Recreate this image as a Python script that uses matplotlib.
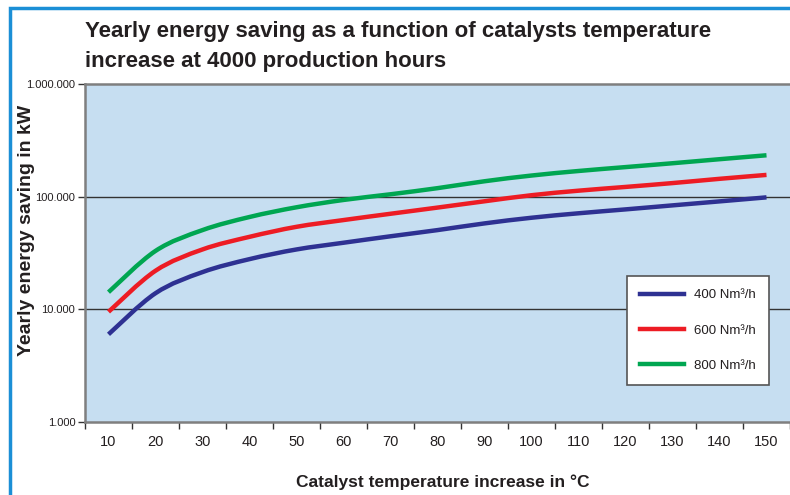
import matplotlib
matplotlib.use("Agg")
import matplotlib.pyplot as plt
import numpy as np
from matplotlib.lines import Line2D
from matplotlib.patches import PathPatch, Rectangle
from matplotlib.path import Path
from matplotlib.ticker import FixedLocator, NullFormatter

plt.rcParams['font.family'] = ['Liberation Sans Narrow', 'Liberation Sans', 'DejaVu Sans']

# data
temps = [10, 20, 30, 40, 50, 60, 70, 80, 90, 100, 110, 120, 130, 140, 150]
saving_400 = [6000, 13900, 21400, 27900, 34000, 39000, 44500, 50500, 57900,
              65000, 71200, 77100, 83700, 90800, 98600]
saving_600 = [9500, 22000, 34000, 44000, 54000, 62000, 70500, 80000, 91000,
              103000, 113000, 122000, 132000, 144000, 156000]
saving_800 = [14200, 33000, 50500, 66000, 80500, 93500, 105000, 119000, 137000,
              154000, 169000, 183000, 198000, 215000, 233000]
series_labels = ["400 Nm\u00b3/h", "600 Nm\u00b3/h", "800 Nm\u00b3/h"]
series_colors = ["#2E3192", "#ED1C24", "#00A651"]
ytick_vals = [1000, 10000, 100000, 1000000]
ytick_labels = ["1.000", "10.000", "100.000", "1.000.000"]


def smooth_path(xs, ys):
    # Excel-like smoothed line: cubic Bezier through every point (Catmull-Rom tangents),
    # built in (x, log y) space so it looks right on the log axis
    px = np.asarray(xs, float)
    py = np.log10(np.asarray(ys, float))
    n = len(px)
    verts = [(px[0], py[0])]
    codes = [Path.MOVETO]
    for i in range(n - 1):
        i0, i3 = max(i - 1, 0), min(i + 2, n - 1)
        c1 = (px[i] + (px[i + 1] - px[i0]) / 6, py[i] + (py[i + 1] - py[i0]) / 6)
        c2 = (px[i + 1] - (px[i3] - px[i]) / 6, py[i + 1] - (py[i3] - py[i]) / 6)
        verts += [c1, c2, (px[i + 1], py[i + 1])]
        codes += [Path.CURVE4] * 3
    v = np.array(verts)
    v[:, 1] = 10 ** v[:, 1]
    return Path(v, codes)


W, H = 790, 495
fig = plt.figure(figsize=(W / 100, H / 100), dpi=100)

# blue frame around the chart (cut off at right/bottom)
fig.patches.append(Rectangle((10 / W, -0.1), 1.2, 1 - 8 / H + 0.1,
                             transform=fig.transFigure, fill=False,
                             edgecolor="#1B8FD6", linewidth=2.5))

ax = fig.add_axes([85 / W, 1 - 422 / H, 1 - 85 / W, (422 - 84) / H])
ax.set_facecolor("#C6DEF1")

ax.set_yscale('log')
ax.set_ylim(1000, 1000000)
ax.set_xlim(-0.5, -0.5 + (W - 85) / 47.33)

x = np.arange(len(temps))
handles = []
for vals, lab, col in zip([saving_400, saving_600, saving_800], series_labels, series_colors):
    ax.add_patch(PathPatch(smooth_path(x, vals), facecolor='none', edgecolor=col,
                           linewidth=3.2, capstyle='butt', zorder=3))
    handles.append(Line2D([0], [0], color=col, linewidth=3.2, label=lab))

ax.yaxis.set_major_locator(FixedLocator(ytick_vals))
ax.set_yticklabels(ytick_labels, fontsize=8, color='#231F20')
ax.yaxis.set_minor_locator(FixedLocator([]))
ax.yaxis.set_minor_formatter(NullFormatter())
ax.tick_params(axis='y', direction='out', length=5, width=1, color='#333333', pad=2)

ax.set_xticks(x)
ax.set_xticklabels([str(t) for t in temps], fontsize=10.5, color='#231F20')
ax.set_xticks(np.arange(len(temps) + 1) - 0.5, minor=True)
ax.tick_params(axis='x', which='major', length=0, pad=9)
ax.tick_params(axis='x', which='minor', direction='out', length=5, width=1, color='#333333')

for v in [10000, 100000]:
    ax.axhline(v, color='#333333', linewidth=1, zorder=2)

for side in ['top', 'left', 'bottom']:
    ax.spines[side].set_color('#7F7F7F')
    ax.spines[side].set_linewidth(1.8)
ax.spines['right'].set_visible(False)

ax.set_ylabel("Yearly energy saving in kW", fontsize=14, fontweight='bold', color='#231F20')
ax.yaxis.set_label_coords(27 / W, 1 - 230 / H, transform=fig.transFigure)
ax.set_xlabel("Catalyst temperature increase in \u00b0C", fontsize=12.5, fontweight='bold',
              color='#231F20')
ax.xaxis.set_label_coords(443 / W, 1 - 482 / H, transform=fig.transFigure)
ax.xaxis.label.set_va('center')
ax.yaxis.label.set_va('center')

fig.text(85 / W, 1 - 31 / H, "Yearly energy saving as a function of catalysts temperature",
         fontsize=16, fontweight='bold', color='#231F20', ha='left', va='center')
fig.text(85 / W, 1 - 61 / H, "increase at 4000 production hours",
         fontsize=16, fontweight='bold', color='#231F20', ha='left', va='center')

leg = ax.legend(handles=handles, loc='upper left', bbox_to_anchor=(627 / W, 1 - 276 / H),
                bbox_transform=fig.transFigure, fontsize=9.5, frameon=True,
                fancybox=False, edgecolor='#555555', facecolor='white', framealpha=1,
                handlelength=3.3, handletextpad=0.8, labelspacing=1.75,
                borderpad=1.0, borderaxespad=0)
leg.get_frame().set_linewidth(1.2)
for t in leg.get_texts():
    t.set_color('#231F20')

fig.savefig("out.png", dpi=100)
